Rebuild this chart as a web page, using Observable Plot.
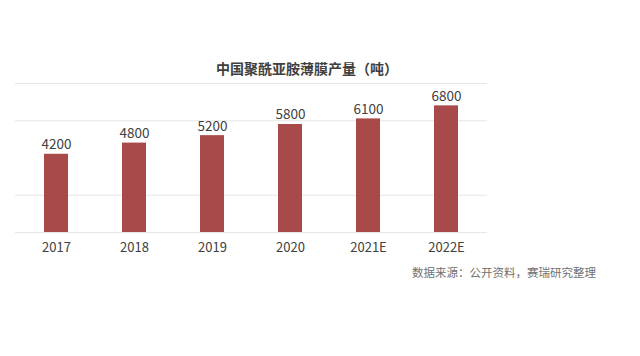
<!DOCTYPE html>
<html>
<head>
<meta charset="utf-8">
<script src="https://cdn.jsdelivr.net/npm/d3@7"></script>
<script src="https://cdn.jsdelivr.net/npm/@observablehq/plot@0.6"></script>
<style>
  body { margin: 0; background: #fff; width: 640px; height: 356px; overflow: hidden; }
  #title { width: 614px; height: 80px; box-sizing: border-box; padding-top: 58px; line-height: 16px;
    text-align: center; font: bold 14px "Noto Sans CJK SC", sans-serif; color: #3f3f3f; }
  #chart svg { display: block; }
  #caption { width: 640px; box-sizing: border-box; padding-right: 44px; margin-top: 4px; line-height: 16px;
    text-align: right; font: 11.5px "Noto Sans CJK SC", sans-serif; color: #707070; }
</style>
</head>
<body>
<div id="title">中国聚酰亚胺薄膜产量（吨）</div>
<div id="chart"></div>
<div id="caption">数据来源：公开资料，赛瑞研究整理</div>
<script>
const years = ["2017", "2018", "2019", "2020", "2021E", "2022E"];
const values = [4200, 4800, 5200, 5800, 6100, 6800];
const gridValues = [0, 2000, 6000, 8000];

const data = years.map((year, i) => ({year, value: values[i]}));
const font = '"Liberation Sans Narrow", "Noto Sans CJK SC", sans-serif';

const chart = Plot.plot({
  width: 640,
  height: 180,
  marginTop: 3,
  marginBottom: 28,
  marginLeft: 15,
  marginRight: 153,
  style: {fontFamily: font, fontSize: "13px", color: "#404040", background: "#fff"},
  x: {domain: years, paddingInner: 0.69, paddingOuter: 0.345, label: null},
  y: {domain: [0, 8000], axis: null},
  marks: [
    Plot.ruleY(gridValues, {stroke: "#e6e6e6", strokeWidth: 1}),
    Plot.barY(data, {x: "year", y: "value", fill: "#a94a4a"}),
    Plot.text(data, {x: "year", y: "value", text: d => String(d.value), lineAnchor: "bottom", dy: -5,
      fill: "#404040", fontSize: 13.5}),
    Plot.axisX({tickSize: 0, tickPadding: 10, fontSize: 13, fill: "#404040", label: null})
  ]
});
document.getElementById("chart").appendChild(chart);
</script>
</body>
</html>
